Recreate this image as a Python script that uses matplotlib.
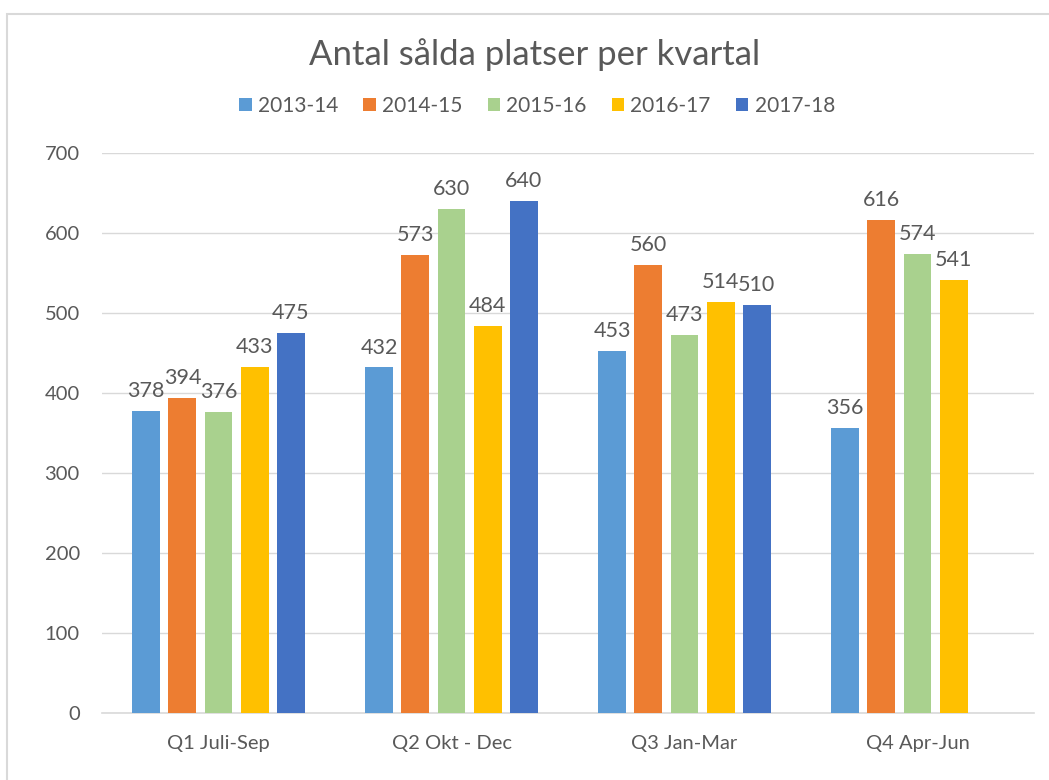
import matplotlib.pyplot as plt
import numpy as np
from matplotlib.patches import Rectangle

categories = ['Q1 Juli-Sep', 'Q2 Okt - Dec', 'Q3 Jan-Mar', 'Q4 Apr-Jun']
seasons = ['2013-14', '2014-15', '2015-16', '2016-17', '2017-18']
v_2013_14 = [378, 432, 453, 356]
v_2014_15 = [394, 573, 560, 616]
v_2015_16 = [376, 630, 473, 574]
v_2016_17 = [433, 484, 514, 541]
v_2017_18 = [475, 640, 510, None]
y_ticks = [0, 100, 200, 300, 400, 500, 600, 700]

colors = ['#5B9BD5', '#ED7D31', '#A9D18E', '#FFC000', '#4472C4']
text_color = '#595959'
plt.rcParams['font.family'] = ['Lato', 'DejaVu Sans']

W, H = 1049, 780
fig = plt.figure(figsize=(W / 100, H / 100), dpi=100)
# plot area in pixels: left 102, right 1034, top 153 (=700), bottom 713 (=0)
ax = fig.add_axes([102 / W, 1 - 713 / H, (1034 - 102) / W, (713 - 153) / H])

# light chart border (top and left edge visible)
fig.patches.append(Rectangle((7 / W, -0.01), 1.1, 1 - 14 / H + 0.01, transform=fig.transFigure,
                             fill=False, edgecolor='#D9D9D9', linewidth=1.5, zorder=0))

x = np.arange(len(categories))
step = 0.155
width = 0.12
series = [v_2013_14, v_2014_15, v_2015_16, v_2016_17, v_2017_18]
for i, vals in enumerate(series):
    xs = [xi + (i - 2) * step for xi, v in zip(x, vals) if v is not None]
    ys = [v for v in vals if v is not None]
    bars = ax.bar(xs, ys, width, color=colors[i], label=seasons[i], zorder=3)
    for b, v in zip(bars, ys):
        ax.annotate(str(v), (b.get_x() + b.get_width() / 2, v), xytext=(0, 7),
                    textcoords='offset points', ha='center', va='bottom',
                    fontsize=15.5, color=text_color)

ax.set_xlim(-0.5, len(categories) - 0.5)
ax.set_ylim(0, 700)
ax.set_yticks(y_ticks)
ax.set_xticks(x)
ax.set_xticklabels(categories)
ax.grid(axis='y', color='#D9D9D9', linewidth=1, zorder=0)
for s in ['top', 'right', 'left']:
    ax.spines[s].set_visible(False)
ax.spines['bottom'].set_color('#D9D9D9')
ax.spines['bottom'].set_linewidth(1.2)
ax.tick_params(axis='both', length=0, labelsize=14.5, colors=text_color)
ax.tick_params(axis='y', pad=16)
ax.tick_params(axis='x', pad=16)

fig.text(535 / W, 1 - 55 / H, 'Antal sålda platser per kvartal', ha='center', va='center',
         fontsize=25, color=text_color)
fig.legend(loc='center', bbox_to_anchor=(537 / W, 1 - 106 / H), ncol=5, frameon=False,
           fontsize=15, labelcolor=text_color, handlelength=0.6, handleheight=0.6,
           handletextpad=0.3, columnspacing=1.2)

fig.savefig('out.png', dpi=100)
